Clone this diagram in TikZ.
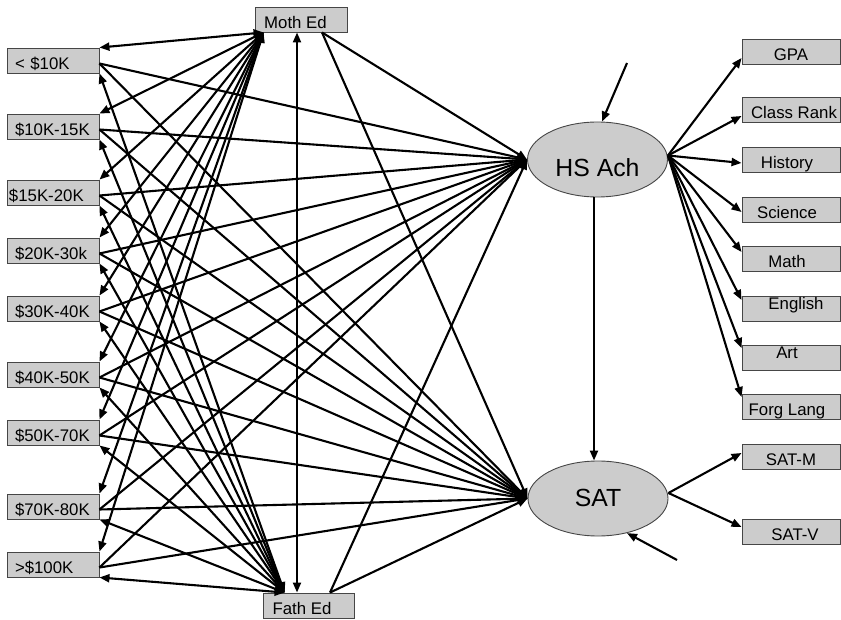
\documentclass[tikz,border=0pt]{standalone}
\usepackage{fontspec}
\setmainfont{Liberation Sans}
\usetikzlibrary{arrows.meta,shapes.geometric}
\definecolor{boxfill}{RGB}{204,204,204}
\definecolor{boxline}{RGB}{70,70,70}
\begin{document}
\begin{tikzpicture}[x=1pt,y=-1pt,
  >={Triangle[length=10pt,width=8pt]},
  conn/.style={line width=2.1pt,->},
  corr/.style={line width=2.1pt,<->},
  box/.style={draw=boxline,line width=0.9pt,fill=boxfill,minimum height=25pt,inner sep=0pt,
    text height=17.4pt,text depth=0pt,font=\fontsize{16.8}{19}\selectfont},
  lbox/.style={box,minimum width=92pt,text width=76pt,align=left},
  rbox/.style={box,minimum width=98pt},
  latent/.style={ellipse,draw=boxline,line width=0.9pt,fill=boxfill,minimum width=140pt,
    minimum height=75pt,inner sep=0pt,font=\fontsize{24.8}{28}\selectfont}
]
\useasboundingbox (0,0) rectangle (841,620);

% income boxes
\node[lbox] (i1) at (53,60.5) {< \$10K};
\node[lbox] (i2) at (53,126.5) {\$10K-15K};
\node[lbox] (i3) at (53,192.5) {\hspace*{-6pt}\$15K-20K};
\node[lbox] (i4) at (53,250.5) {\$20K-30k};
\node[lbox] (i5) at (53,308.5) {\$30K-40K};
\node[lbox] (i6) at (53,374.5) {\$40K-50K};
\node[lbox] (i7) at (53,432.5) {\$50K-70K};
\node[lbox] (i8) at (53,506.5) {\$70K-80K};
\node[lbox] (i9) at (53,564.5) {>\$100K};

% parents' education
\node[box,minimum width=92pt] (me) at (301,19.5) {\hspace*{-11pt}Moth Ed};
\node[box,minimum width=91pt] (fe) at (308.5,605.5) {\hspace*{-13pt}Fath Ed};

% latent variables
\node[latent,text height=34pt,text depth=0pt] (hs) at (597.5,159.5) {HS Ach};
\node[latent,text height=16pt,text depth=0pt] (sat) at (598,498.5) {SAT};

% indicators
\node[rbox] (gpa) at (791,51.5) {GPA};
\node[rbox] (cr) at (791,110) {\hspace*{6pt}Class Rank};
\node[rbox] (hist) at (791,159.5) {\hspace*{-8pt}History};
\node[rbox] (sci) at (791,209.5) {\hspace*{-8pt}Science};
\node[rbox] (math) at (791,258.5) {\hspace*{-8pt}Math};
\node[rbox,text height=11.7pt,text depth=8.7pt] (eng) at (791,308.5) {\hspace*{10pt}English};
\node[rbox,text height=11.7pt,text depth=10.1pt] (art) at (791,357.5) {\hspace*{-8pt}Art};
\node[rbox] (fl) at (791,406.5) {\hspace*{-8pt}Forg Lang};
\node[rbox] (satm) at (791,456.5) {SAT-M};
\node[rbox] (satv) at (791,531.5) {\hspace*{8pt}SAT-V};

% connection points
\coordinate (mp) at ([xshift=9pt]me.south west);
\coordinate (fp) at ([xshift=22pt]fe.north west);
\coordinate (mr) at ([xshift=21pt]me.south);
\coordinate (fr) at ([xshift=21.5pt]fe.north);
\coordinate (hr) at ([yshift=4pt]hs.east);
\coordinate (sr) at ([yshift=5.5pt]sat.east);
\coordinate (e1) at (627,63);
\coordinate (e2) at (677,560);

% income connectors
\foreach \k in {1,...,9}{
  \draw[corr] (i\k.north east) -- (mp);
  \draw[corr] (i\k.south east) -- (fp);
  \draw[conn] ([yshift=-3pt]i\k.east) -- (hs.west);
  \draw[conn] ([yshift=-3pt]i\k.east) -- (sat.west);
}

% parents
\draw[corr] ([xshift=-4pt]me.south) -- ([xshift=-11.5pt]fe.north);
\draw[conn] (mr) -- (hs.west);
\draw[conn] (mr) -- (sat.west);
\draw[conn] (fr) -- (hs.west);
\draw[conn] (fr) -- (sat.west);

% structural
\draw[conn] ([xshift=-3.5pt]hs.south) -- ([xshift=-4pt]sat.north);
\draw[conn] (e1) -- ([xshift=4.5pt]hs.north);
\draw[conn] (e2) -- (sat.-50);

% measurement
\draw[conn] (hr) -- ([yshift=-6.5pt]gpa.west);
\draw[conn] (hr) -- ([yshift=-6pt]cr.west);
\draw[conn] (hr) -- ([yshift=-3.5pt]hist.west);
\draw[conn] (hr) -- ([yshift=-2.5pt]sci.west);
\draw[conn] (hr) -- ([yshift=6.5pt]math.west);
\draw[conn] (hr) -- ([yshift=8.5pt]eng.west);
\draw[conn] (hr) -- ([yshift=9.5pt]art.west);
\draw[conn] (hr) -- ([yshift=9.5pt]fl.west);
\draw[conn] (sr) -- ([yshift=3.5pt]satm.west);
\draw[conn] (sr) -- ([yshift=4.5pt]satv.west);
\end{tikzpicture}
\end{document}
